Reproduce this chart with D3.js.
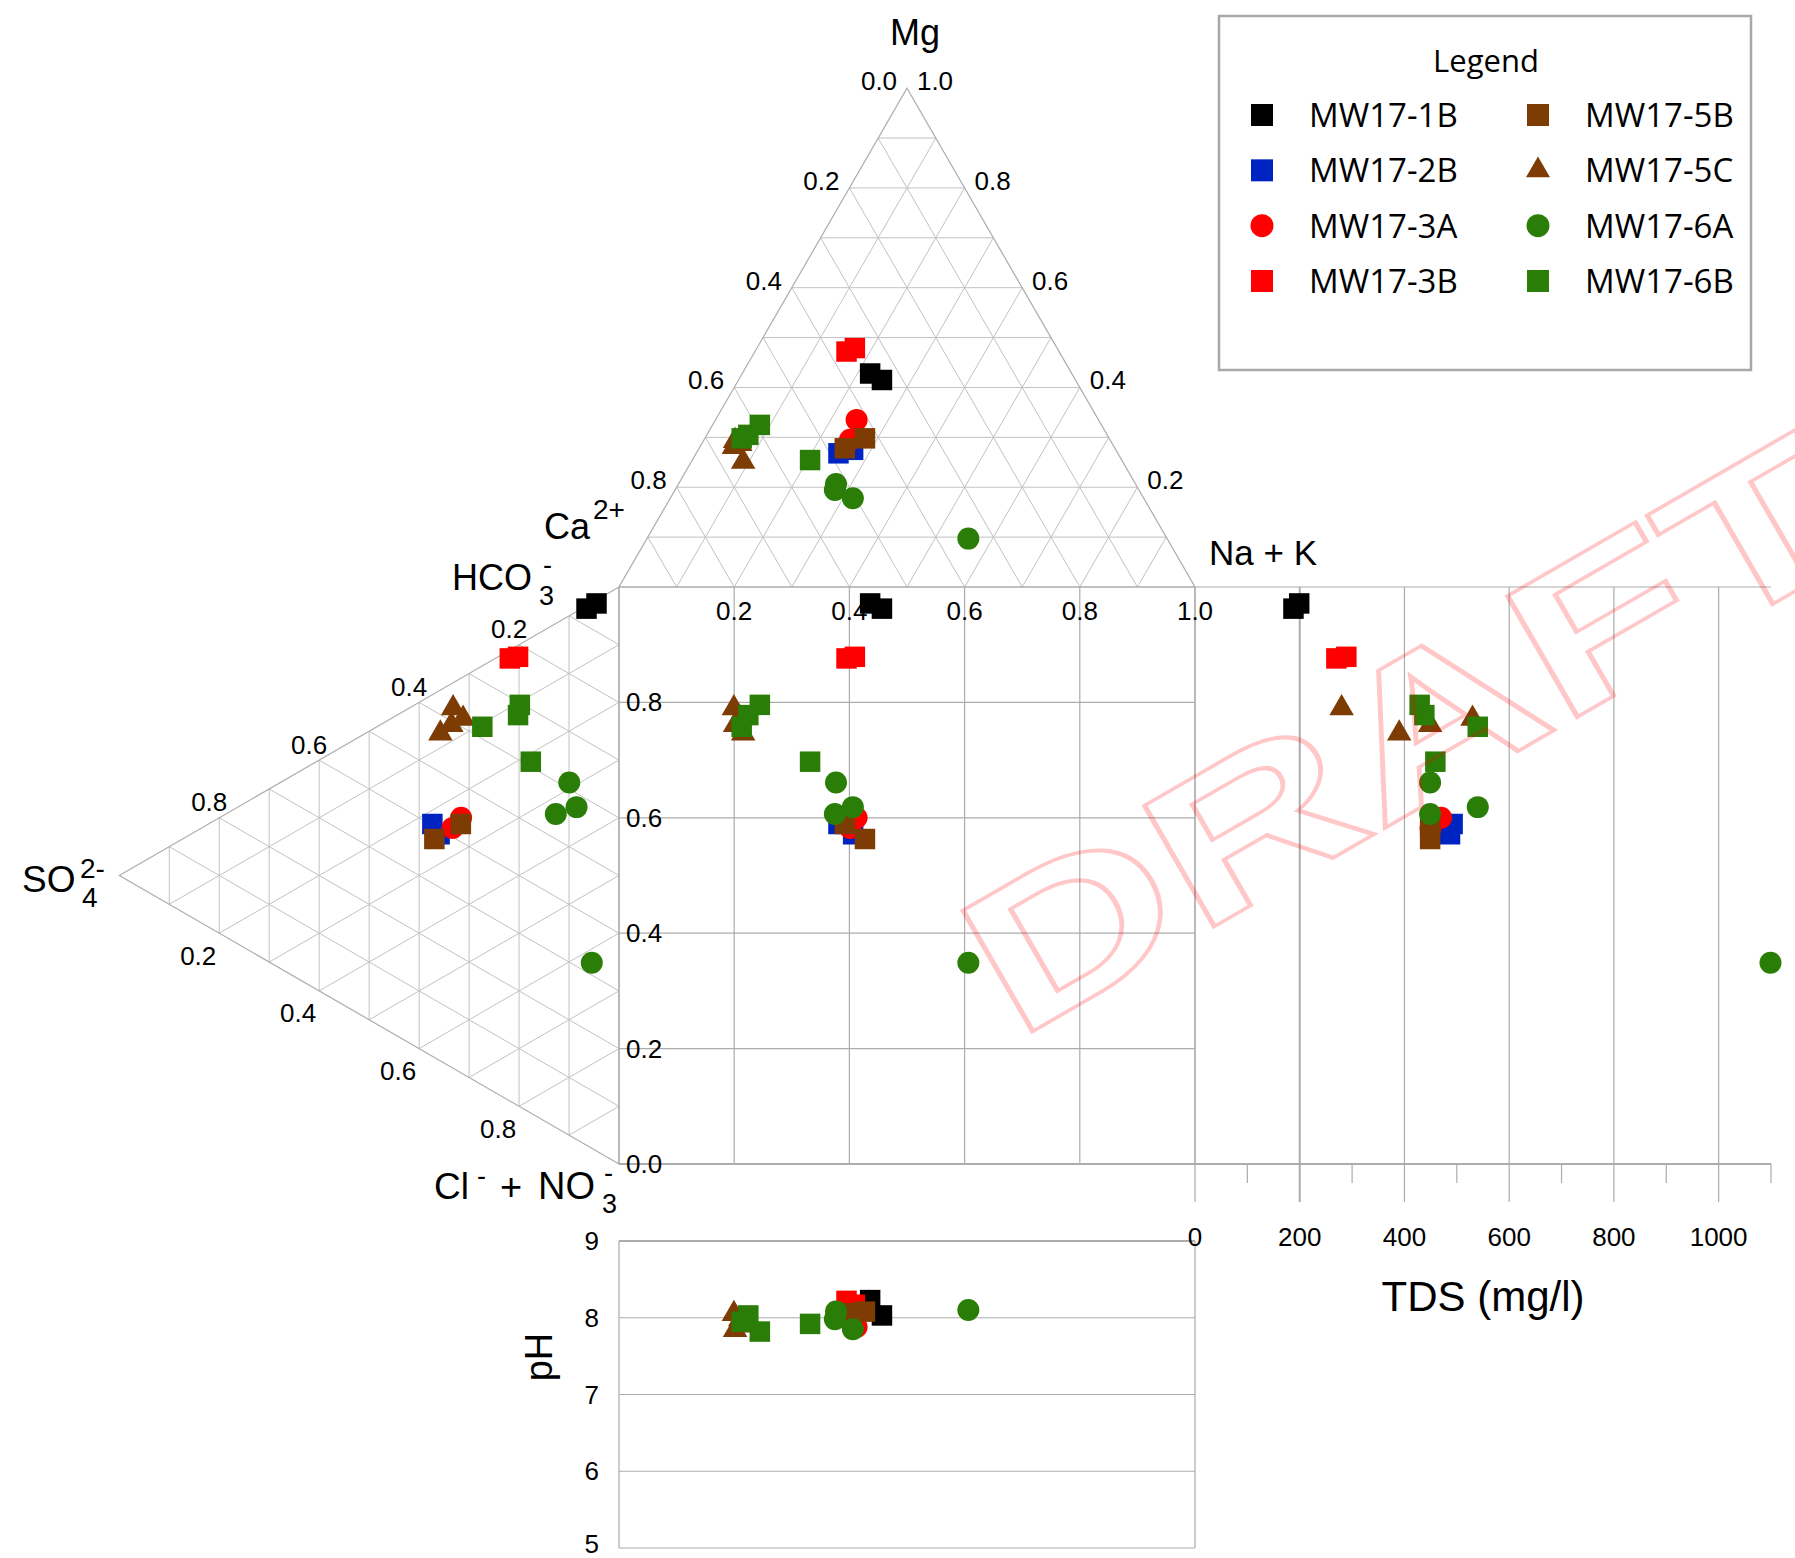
<!DOCTYPE html>
<html><head><meta charset="utf-8">
<script src="https://cdn.jsdelivr.net/npm/d3@7"></script>
<style>body{margin:0;background:#fff}svg{display:block}</style>
</head><body>
<svg id="chart" width="1795" height="1558"></svg>
<script>
// ---------- data ----------
const seriesNames  = ["MW17-1B","MW17-2B","MW17-3A","MW17-3B","MW17-5B","MW17-5C","MW17-6A","MW17-6B"];
const seriesColors = ["#000000","#0024c2","#ff0000","#ff0000","#7c3c04","#7c3c04","#2a7d06","#2a7d06"];
const seriesShapes = ["square","square","circle","square","square","triangle","circle","square"];

const sampleSeries = ["MW17-1B","MW17-1B","MW17-2B","MW17-2B","MW17-3A","MW17-3A","MW17-3B","MW17-3B",
  "MW17-5B","MW17-5B","MW17-5C","MW17-5C","MW17-5C","MW17-5C","MW17-6A","MW17-6A","MW17-6A","MW17-6A",
  "MW17-6B","MW17-6B","MW17-6B","MW17-6B"];
// cations (fractions)
const caFrac  = [0.350,0.336,0.485,0.456,0.420,0.4515,0.369,0.351,0.424,0.469,0.660,0.646,0.652,0.659,0.520,0.528,0.505,0.345,0.593,0.623,0.638,0.541];
const mgFrac  = [0.428,0.415,0.268,0.275,0.335,0.295,0.472,0.479,0.298,0.278,0.281,0.287,0.293,0.251,0.2065,0.1945,0.178,0.097,0.325,0.305,0.298,0.2545];
const naKFrac = [0.222,0.249,0.247,0.269,0.245,0.2535,0.159,0.170,0.278,0.253,0.059,0.067,0.055,0.090,0.2735,0.2775,0.317,0.558,0.082,0.072,0.064,0.2045];
// anions (fractions)
const hco3Frac  = [0.949,0.930,0.4025,0.392,0.442,0.416,0.767,0.778,0.3785,0.431,0.624,0.616,0.593,0.5675,0.6115,0.5435,0.576,0.3215,0.6965,0.677,0.621,0.609];
const so4Frac   = [0.045,0.065,0.3735,0.359,0.316,0.333,0.2185,0.202,0.3695,0.3165,0.332,0.312,0.3355,0.3575,0.0995,0.1265,0.085,0.0545,0.1985,0.202,0.2735,0.1765];
const clNo3Frac = [0.006,0.005,0.224,0.249,0.242,0.251,0.0145,0.020,0.252,0.2525,0.044,0.072,0.0715,0.075,0.289,0.330,0.339,0.624,0.105,0.121,0.1055,0.2145];
const tdsValues = [199,188,492,487,470,450,270,289,449,449,280,530,449,390,449,449,540,1099,429,438,540,459];
const phValues  = [8.23,8.03,8.01,7.95,7.88,8.05,8.22,8.17,8.08,8.06,8.05,7.98,7.84,7.90,8.08,7.98,7.85,8.10,7.82,8.03,7.95,7.92];

const ternTicks  = [0.2,0.4,0.6,0.8];
const sqXTicks   = [0.2,0.4,0.6,0.8,1.0];
const sqYTicks   = [0.0,0.2,0.4,0.6,0.8];
const tdsTicks   = [0,200,400,600,800,1000];
const tdsMinor   = [100,300,500,700,900,1100];
const phTicks    = [5,6,7,8,9];

// ---------- setup ----------
const svg = d3.select("#chart");
const FONT = "'Liberation Sans', Arial, sans-serif";
const LFONT = "'Open Sans', sans-serif";
const GRID = "#c2c2c2", EDGE = "#acacac";

const sx = d3.scaleLinear().domain([0,1]).range([619,1195]);
const sy = d3.scaleLinear().domain([0,1]).range([1164,587]);
const tdsX = d3.scaleLinear().domain([0,1100]).range([1195,1771]);
const phY = d3.scaleLinear().domain([5,9]).range([1548,1241]);
const r3 = Math.sqrt(3)/2;

const CaV = [sx(0), sy(1)], NaV = [sx(1), sy(1)], MgV = [sx(0.5), sy(1) - (sx(1)-sx(0))*r3];
const HV = [sx(0), sy(1)], CV = [sx(0), sy(0)], SV = [sx(0) - (sy(0)-sy(1))*r3, sy(0.5)];

const lerp = (A,B,t) => [A[0]+(B[0]-A[0])*t, A[1]+(B[1]-A[1])*t];
const bary = (P,Q,R,a,b,c) => [a*P[0]+b*Q[0]+c*R[0], a*P[1]+b*Q[1]+c*R[1]];

const gGrid = svg.append("g");
const line = (g,p,q,col,w) => g.append("line").attr("x1",p[0]).attr("y1",p[1]).attr("x2",q[0]).attr("y2",q[1])
  .attr("stroke",col).attr("stroke-width",w);

function ternGrid(A,B,C){
  for(let k=1;k<10;k++){
    const t=k/10;
    line(gGrid, lerp(A,B,t), lerp(A,C,t), GRID, 1);
    line(gGrid, lerp(B,A,t), lerp(B,C,t), GRID, 1);
    line(gGrid, lerp(C,A,t), lerp(C,B,t), GRID, 1);
  }
  gGrid.append("polygon").attr("points",[A,B,C].map(p=>p.join(",")).join(" "))
    .attr("fill","none").attr("stroke",EDGE).attr("stroke-width",1.2);
}
ternGrid(CaV, NaV, MgV);
ternGrid(HV, CV, SV);

// square grid
sqXTicks.forEach(v => line(gGrid,[sx(v),sy(0)],[sx(v),sy(1)],EDGE,1.2));
sqYTicks.concat([1]).forEach(v => line(gGrid,[sx(0),sy(v)],[sx(1),sy(v)],EDGE,v===0?1.8:1.2));
line(gGrid,[sx(0),sy(0)],[sx(0),sy(1)],EDGE,1.2);

// TDS panel
line(gGrid,[tdsX(0),sy(1)],[tdsX(1100),sy(1)],EDGE,1.2);
line(gGrid,[tdsX(0),sy(0)],[tdsX(1100),sy(0)],EDGE,1.8);
tdsTicks.forEach(v => line(gGrid,[tdsX(v),sy(1)],[tdsX(v),sy(0)+38],EDGE,v===200?2:1.2));
tdsMinor.forEach(v => line(gGrid,[tdsX(v),sy(0)],[tdsX(v),sy(0)+19],EDGE,1.2));

// pH panel
phTicks.forEach(v => line(gGrid,[sx(0),phY(v)],[sx(1),phY(v)],EDGE,v===9?2:1.2));
line(gGrid,[sx(0),phY(5)],[sx(0),phY(9)],EDGE,1.2);
line(gGrid,[sx(1),phY(5)],[sx(1),phY(9)],EDGE,1.2);

// ---------- tick labels ----------
const gTxt = svg.append("g").attr("font-family",FONT).attr("fill","#000");
const label = (x,y,s,size,anchor,base) => gTxt.append("text").attr("x",x).attr("y",y).text(s)
  .attr("font-size",size).attr("text-anchor",anchor||"middle").attr("dominant-baseline",base||"central");
const TS = 26;
[0].concat(ternTicks).forEach(k => {
  const pl = lerp(MgV, CaV, k), pr = lerp(MgV, NaV, k);
  label(pl[0]-28, pl[1]-7, k.toFixed(1), TS);
  label(pr[0]+28, pr[1]-7, (1-k).toFixed(1), TS);
});
ternTicks.forEach(k => {
  const pu = lerp(HV, SV, k), pd = lerp(SV, CV, k);
  label(pu[0]-10, pu[1]-15.6, k.toFixed(1), TS);
  label(pd[0]-21, pd[1]+22.4, k.toFixed(1), TS);
});
sqXTicks.forEach(v => label(sx(v), sy(1)+24, v.toFixed(1), TS));
sqYTicks.forEach(v => label(sx(0)+7, sy(v), v.toFixed(1), TS, "start"));
tdsTicks.forEach(v => label(tdsX(v), sy(0)+73, String(v), TS));
phTicks.forEach(v => label(sx(0)-20, phY(v) - (v===5?4:0), String(v), TS, "end"));

// ---------- axis titles ----------
const T = (x,y,s,size,anchor) => gTxt.append("text").attr("x",x).attr("y",y).text(s)
  .attr("font-size",size).attr("text-anchor",anchor||"start");
T(915,45,"Mg",36,"middle");
T(590,539,"Ca",36,"end"); T(593,519,"2+",28);
T(1209,565,"Na + K",35);
T(452,590,"HCO",36); T(539,605,"3",27); T(543,574,"-",27);
T(22,892,"SO",37); T(80,878,"2-",28); T(82,907,"4",28);
T(434,1199,"Cl",37); T(477,1185,"-",27); T(500,1200,"+",38); T(538,1199,"NO",38); T(602,1213,"3",27); T(604,1182,"-",27);
T(1483,1311,"TDS (mg/l)",42,"middle");
gTxt.append("text").attr("transform","translate(552,1357) rotate(-90)").attr("text-anchor","middle")
  .attr("font-size",38).text("pH");

// ---------- markers ----------
const shapeType = {square:d3.symbolSquare, circle:d3.symbolCircle, triangle:d3.symbolTriangle};
const shapeSize = {square:420, circle:380, triangle:260};
const sIdx = name => seriesNames.indexOf(name);
const samples = sampleSeries.map((s,i)=>({s, i, k:sIdx(s)}));
samples.sort((a,b)=>a.k-b.k);

const gPts = svg.append("g");
function mark(x,y,k){
  const sh = seriesShapes[k];
  gPts.append("path").attr("transform",`translate(${x},${y})`)
    .attr("d", d3.symbol().type(shapeType[sh]).size(shapeSize[sh])())
    .attr("fill", seriesColors[k]);
}
samples.forEach(({i,k}) => {
  const pc = bary(CaV, MgV, NaV, caFrac[i], mgFrac[i], naKFrac[i]);
  const pa = bary(HV, SV, CV, hco3Frac[i], so4Frac[i], clNo3Frac[i]);
  mark(pc[0], pc[1], k);                 // cation triangle
  mark(pa[0], pa[1], k);                 // anion triangle
  mark(pc[0], pa[1], k);                 // central square
  mark(tdsX(tdsValues[i]), pa[1], k);    // TDS panel
  mark(pc[0], phY(phValues[i]), k);      // pH panel
});

// ---------- legend ----------
const gL = svg.append("g");
gL.append("rect").attr("x",1219).attr("y",16).attr("width",532).attr("height",354)
  .attr("fill","#fff").attr("stroke","#a8a8a8").attr("stroke-width",2.5);
gL.append("text").attr("x",1486).attr("y",72).attr("text-anchor","middle")
  .attr("font-family",LFONT).attr("font-size",31).text("Legend");
const rowY = d3.scaleLinear().domain([0,3]).range([115,281]);
const colX = [1262,1538], colT = [1309,1585];
const legSize = {square:484, circle:415, triangle:250};
seriesNames.forEach((n,k) => {
  const c = Math.floor(k/4), r = k%4, sh = seriesShapes[k];
  gL.append("path").attr("transform",`translate(${colX[c]},${rowY(r)})`)
    .attr("d", d3.symbol().type(shapeType[sh]).size(legSize[sh])()).attr("fill",seriesColors[k]);
  gL.append("text").attr("x",colT[c]).attr("y",rowY(r)+12).attr("font-family",LFONT)
    .attr("font-size",33).text(n);
});

// ---------- watermark ----------
svg.append("text").attr("transform","translate(1016,1041) rotate(-30) scale(1.43,1)")
  .attr("font-family",FONT).attr("font-weight","bold").attr("font-size",203)
  .attr("fill","none").attr("stroke","#ff0000").attr("stroke-opacity",0.22)
  .attr("stroke-width",4.5).attr("vector-effect","non-scaling-stroke").text("DRAFT");
</script>
</body></html>
